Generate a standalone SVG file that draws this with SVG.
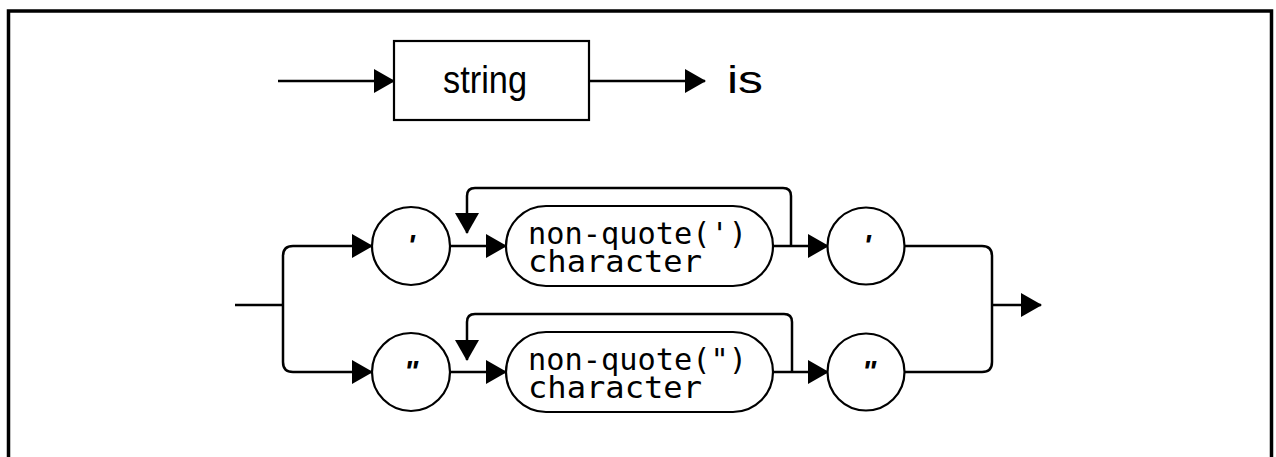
<svg xmlns="http://www.w3.org/2000/svg" width="1276" height="457" viewBox="0 0 1276 457">
<style>
.ln{fill:none;stroke:#000;stroke-width:2.5;stroke-linejoin:round}
.nd{fill:#fff;stroke:#000;stroke-width:2.2}
.sans{font-family:"Liberation Sans",Arial,sans-serif;font-size:38px;fill:#000}
.mono{font-family:"DejaVu Sans Mono","Liberation Mono",monospace;font-size:31px;fill:#000}
.q{font-family:"Liberation Sans",Arial,sans-serif;font-style:italic;font-weight:bold;font-size:30px;fill:#000;text-anchor:middle}
</style>
<defs>
<marker id="ah" markerUnits="userSpaceOnUse" markerWidth="22" markerHeight="26" refX="20" refY="12" orient="auto">
<path d="M0,0 L21,12 L0,24 Z" fill="#000"/>
</marker>
</defs>
<rect x="8.5" y="11" width="1263" height="470" fill="none" stroke="#000" stroke-width="3.5"/>
<g id="connectors">
<path class="ln" d="M278,81 H394" marker-end="url(#ah)"/>
<path class="ln" d="M589,81 H705" marker-end="url(#ah)"/>
<path class="ln" d="M235,305 H283"/>
<path class="ln" d="M283,305 V256 Q283,246 293,246 H372" marker-end="url(#ah)"/>
<path class="ln" d="M283,305 V362 Q283,372 293,372 H372" marker-end="url(#ah)"/>
<path class="ln" d="M450,246 H506" marker-end="url(#ah)"/>
<path class="ln" d="M450,372 H506" marker-end="url(#ah)"/>
<path class="ln" d="M773,246 H828" marker-end="url(#ah)"/>
<path class="ln" d="M773,372 H828" marker-end="url(#ah)"/>
<path class="ln" d="M791,246 V196 Q791,188 783,188 H475 Q467,188 467,196 V233" marker-end="url(#ah)"/>
<path class="ln" d="M792,372 V322 Q792,314 784,314 H475 Q467,314 467,322 V360" marker-end="url(#ah)"/>
<path class="ln" d="M905,246 H982 Q992,246 992,256 V362 Q992,372 982,372 H905"/>
<path class="ln" d="M992,305 H1041" marker-end="url(#ah)"/>
</g>
<g id="string">
<rect class="nd" x="394" y="41" width="195" height="79"/>
<text class="sans" x="443" y="93" textLength="84" lengthAdjust="spacingAndGlyphs">string</text>
</g>
<g id="is">
<text class="sans" x="727" y="93" textLength="36" lengthAdjust="spacingAndGlyphs">is</text>
</g>
<g id="q1-open">
<circle class="nd" cx="411" cy="246" r="39"/>
<text class="q" x="411" y="255">'</text>
</g>
<g id="nq1">
<rect class="nd" x="506" y="206" width="267" height="80" rx="40" ry="40"/>
<text class="mono" x="528" y="244" textLength="219" lengthAdjust="spacingAndGlyphs">non-quote(')</text>
<text class="mono" x="528" y="272" textLength="174" lengthAdjust="spacingAndGlyphs">character</text>
</g>
<g id="q1-close">
<circle class="nd" cx="866" cy="246" r="38.5"/>
<text class="q" x="867" y="255">'</text>
</g>
<g id="q2-open">
<circle class="nd" cx="411" cy="372" r="39"/>
<text class="q" x="411" y="381">"</text>
</g>
<g id="nq2">
<rect class="nd" x="506" y="332" width="267" height="80" rx="40" ry="40"/>
<text class="mono" x="528" y="370" textLength="219" lengthAdjust="spacingAndGlyphs">non-quote(")</text>
<text class="mono" x="528" y="398" textLength="174" lengthAdjust="spacingAndGlyphs">character</text>
</g>
<g id="q2-close">
<circle class="nd" cx="866" cy="372" r="38.5"/>
<text class="q" x="869" y="381">"</text>
</g>
</svg>
